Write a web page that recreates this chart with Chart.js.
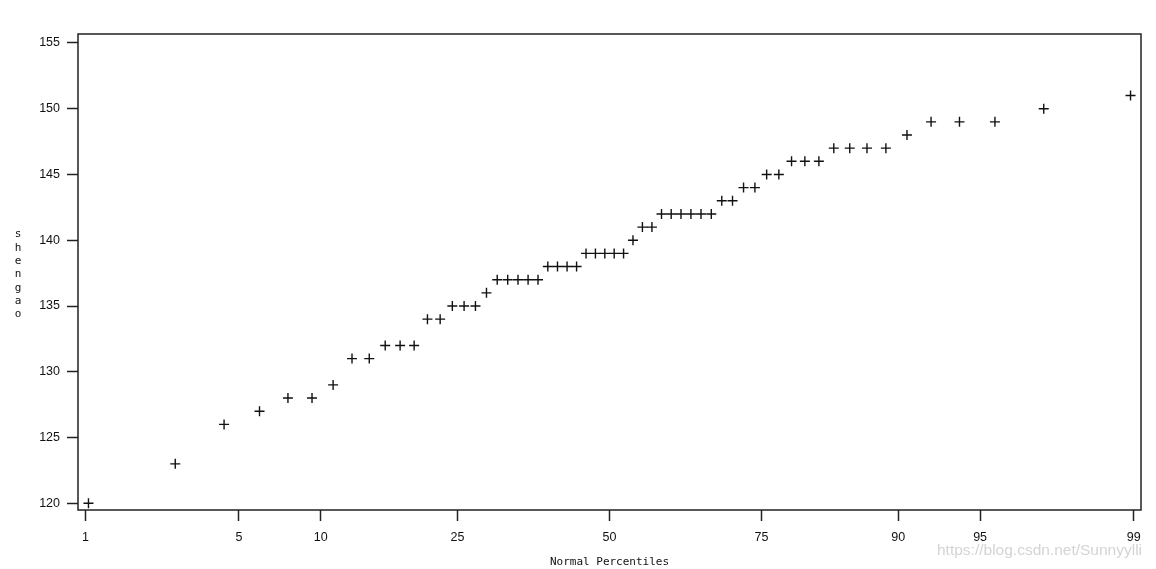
<!DOCTYPE html>
<html>
<head>
<meta charset="utf-8">
<script src="https://cdn.jsdelivr.net/npm/chart.js@4"></script>
<style>
html,body{margin:0;padding:0;background:#fff;}
#wrap{position:relative;width:1156px;height:569px;}
#wm{position:absolute;left:937px;top:541px;font-family:"Liberation Sans",Arial,sans-serif;font-size:15.5px;color:#d4d4d4;white-space:nowrap;}
</style>
</head>
<body>
<div id="wrap">
<canvas id="c" width="1156" height="569"></canvas>
<div id="wm">https://blog.csdn.net/Sunnyylli</div>
</div>
<script>
// sorted heights (shengao), 60 observations
const shengao = [120,123,126,127,128,128,129,131,131,132,132,132,134,134,135,135,135,136,
  137,137,137,137,137,138,138,138,138,139,139,139,139,139,140,141,141,
  142,142,142,142,142,142,143,143,144,144,145,145,146,146,146,147,147,147,147,
  148,149,149,149,150,151];
const percentileTicks = [1,5,10,25,50,75,90,95,99];
const yTicks = [120,125,130,135,140,145,150,155];
const yTitle = "shengao";
const xTitle = "Normal Percentiles";

// inverse standard normal (Acklam)
function probit(p){
  const a=[-3.969683028665376e+01,2.209460984245205e+02,-2.759285104469687e+02,1.383577518672690e+02,-3.066479806614716e+01,2.506628277459239e+00];
  const b=[-5.447609879822406e+01,1.615858368580409e+02,-1.556989798598866e+02,6.680131188771972e+01,-1.328068155288572e+01];
  const c=[-7.784894002430293e-03,-3.223964580411365e-01,-2.400758277161838e+00,-2.549732539343734e+00,4.374664141464968e+00,2.938163982698783e+00];
  const d=[7.784695709041462e-03,3.224671290700398e-01,2.445134137142996e+00,3.754408661907416e+00];
  const pl=0.02425;let q,r;
  if(p<pl){q=Math.sqrt(-2*Math.log(p));return (((((c[0]*q+c[1])*q+c[2])*q+c[3])*q+c[4])*q+c[5])/((((d[0]*q+d[1])*q+d[2])*q+d[3])*q+1);}
  if(p>1-pl){q=Math.sqrt(-2*Math.log(1-p));return -(((((c[0]*q+c[1])*q+c[2])*q+c[3])*q+c[4])*q+c[5])/((((d[0]*q+d[1])*q+d[2])*q+d[3])*q+1);}
  q=p-0.5;r=q*q;return (((((a[0]*r+a[1])*r+a[2])*r+a[3])*r+a[4])*r+a[5])*q/(((((b[0]*r+b[1])*r+b[2])*r+b[3])*r+b[4])*r+1);
}
const n = shengao.length;
// Blom plotting positions (normal scores by rank)
const points = shengao.map((v,i)=>({x: probit((i+1-0.375)/(n+0.25)), y: v}));
const tickZ = percentileTicks.map(p=>probit(p/100));

const tickFont = {family:'"Liberation Sans Narrow","Liberation Sans",Arial,sans-serif', size:12.5};

const framePlugin = {
  id:'frame',
  afterDraw(chart){
    const {ctx, chartArea:a} = chart;
    ctx.save();
    ctx.strokeStyle='#222';
    ctx.lineWidth=1.5;
    ctx.strokeRect(a.left, a.top, a.right-a.left, a.bottom-a.top);
    // vertical stacked y title
    ctx.fillStyle='#111';
    ctx.font='11px "DejaVu Sans Mono", monospace';
    ctx.textAlign='center';
    ctx.textBaseline='middle';
    const letters = yTitle.split('');
    const step=13.3, cy=(233+316)/2;
    letters.forEach((ch,i)=>{
      ctx.fillText(ch, 18, cy + (i-(letters.length-1)/2)*step);
    });
    ctx.font='11px "DejaVu Sans Mono", monospace';
    ctx.fillText(xTitle, 609.5, 562);
    ctx.restore();
  }
};

new Chart(document.getElementById('c'), {
  type:'scatter',
  data:{datasets:[{
    data: points,
    pointStyle:'cross',
    pointRadius:5,
    pointHoverRadius:5,
    borderColor:'#111',
    backgroundColor:'#111',
    borderWidth:1.4
  }]},
  options:{
    responsive:false,
    animation:false,
    events:[],
    layout:{padding:{left:0,right:15,top:34,bottom:0}},
    plugins:{legend:{display:false},tooltip:{enabled:false}},
    scales:{
      x:{
        type:'linear',
        min:-2.359, max:2.359,
        afterBuildTicks(s){ s.ticks = tickZ.map(v=>({value:v})); },
        afterFit(s){ s.height = 59; },
        ticks:{
          callback:(v,i)=>String(percentileTicks[i]),
          color:'#111', font:tickFont, padding:9, maxRotation:0, autoSkip:false
        },
        grid:{drawOnChartArea:false, drawTicks:true, tickLength:11, tickWidth:1.5, tickColor:'#222'},
        border:{display:false}
      },
      y:{
        type:'linear',
        min:119.49, max:155.68,
        afterBuildTicks(s){ s.ticks = yTicks.map(v=>({value:v})); },
        afterFit(s){ s.width = 78; },
        ticks:{color:'#111', font:tickFont, padding:7, autoSkip:false},
        grid:{drawOnChartArea:false, drawTicks:true, tickLength:11, tickWidth:1.5, tickColor:'#222'},
        border:{display:false}
      }
    }
  },
  plugins:[framePlugin]
});
</script>
</body>
</html>
